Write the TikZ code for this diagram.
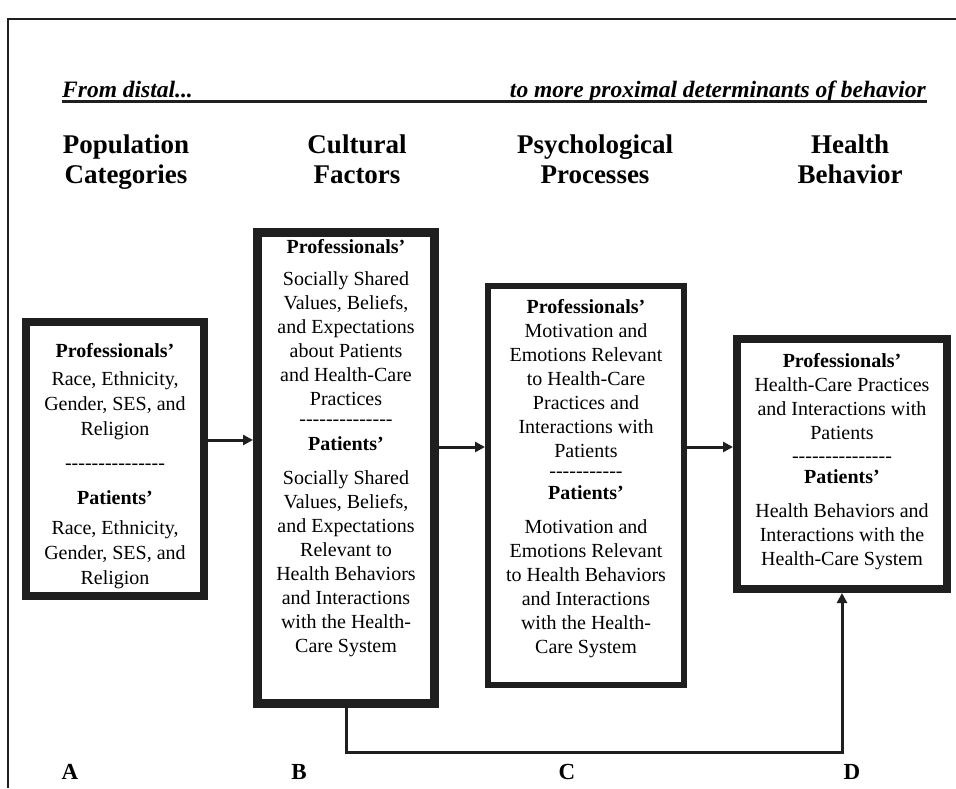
\documentclass[tikz,border=0pt]{standalone}
\usepackage{fontspec}
\setmainfont{Liberation Serif}
\usetikzlibrary{arrows.meta}
\ExplSyntaxOn
\NewDocumentCommand\dashrow{m}{\prg_replicate:nn{#1}{-\kern0pt}}
\ExplSyntaxOff
\colorlet{ink}{black!88}
\begin{document}
\begin{tikzpicture}[x=1pt,y=-1pt,
  boxst/.style={draw=ink, line width=#1, inner sep=0pt},
  txt/.style={align=center, inner sep=0pt, anchor=north, font=\fontsize{20}{24}\selectfont},
  hd/.style={align=center, inner sep=0pt, anchor=north, font=\fontsize{27}{30}\selectfont\bfseries},
  lab/.style={font=\fontsize{23}{26}\selectfont\bfseries, inner sep=0pt},
  conn/.style={draw=ink, line width=3pt, -{Triangle[length=10pt,width=10pt]}},
  ttl/.style={font=\fontsize{23.5}{28}\selectfont\bfseries\itshape, inner sep=0pt}]
\useasboundingbox (0,0) rectangle (956,788);
% frame
\draw[ink, line width=1.5pt] (8,788) -- (8,19) -- (956,19);
% title
\node[ttl, anchor=base west] (ti1) at (62,97) {From distal...};
\node[ttl, anchor=base east] (ti2) at (926,97) {to more proximal determinants of behavior};
\draw[ink, line width=2.8pt] (62,101.5) -- (927,101.5);
% headings
\node[hd] (h1) at (126,135) {Population\\Categories};
\node[hd] (h2) at (357,135) {Cultural\\Factors};
\node[hd] (h3) at (595,135) {Psychological\\Processes};
\node[hd] (h4) at (850,135) {Health\\Behavior};
% boxes
\node[boxst=8pt, minimum width=178pt, minimum height=274pt] (A) at (115,459) {};
\node[boxst=9pt, minimum width=177pt, minimum height=471pt] (B) at (346,468) {};
\node[boxst=6pt, minimum width=196pt, minimum height=399pt] (C) at (586,485.5) {};
\node[boxst=8pt, minimum width=210pt, minimum height=250pt] (D) at (842,464) {};
% box texts
\node[txt, font=\fontsize{20}{25}\selectfont] (tA) at (115,343) {\textbf{Professionals’}\\[3pt]
  Race, Ethnicity,\\Gender, SES, and\\Religion\\[9pt]
  \dashrow{15}\\[10pt]
  \textbf{Patients’}\\[5pt]
  Race, Ethnicity,\\Gender, SES, and\\Religion};
\node[txt] (tB) at (346,239) {\textbf{Professionals’}\\[8pt]
  Socially Shared\\Values, Beliefs,\\and Expectations\\about Patients\\and Health-Care\\Practices\\[-4pt]
  \dashrow{14}\\[1pt]
  \textbf{Patients’}\\[10pt]
  Socially Shared\\Values, Beliefs,\\and Expectations\\Relevant to\\Health Behaviors\\and Interactions\\with the Health-\\Care System};
\node[txt] (tC) at (586,299) {\textbf{Professionals’}\\
  Motivation and\\Emotions Relevant\\to Health-Care\\Practices and\\Interactions with\\Patients\\[-4pt]
  \dashrow{11}\\[-2pt]
  \textbf{Patients’}\\[10pt]
  Motivation and\\Emotions Relevant\\to Health Behaviors\\and Interactions\\with the Health-\\Care System};
\node[txt] (tD) at (842,353) {\textbf{Professionals’}\\
  Health-Care Practices\\and Interactions with\\Patients\\[-1pt]
  \dashrow{15}\\[-3pt]
  \textbf{Patients’}\\[10pt]
  Health Behaviors and\\Interactions with the\\Health-Care System};
% connectors
\coordinate (ab) at (0,440);
\coordinate (bc) at (0,447);
\draw[conn] (A.east |- ab) -- (B.west |- ab);
\draw[conn] (B.east |- bc) -- (C.west |- bc);
\draw[conn] (C.east |- bc) -- (D.west |- bc);
\coordinate (low) at (0,752);
\draw[conn] (B.south) -- (B.south |- low) -| (D.south);
% labels
\node[lab] (lA) at (70,772) {A};
\node[lab] (lB) at (299,772) {B};
\node[lab] (lC) at (567,772) {C};
\node[lab] (lD) at (852,772) {D};
\end{tikzpicture}
\end{document}
